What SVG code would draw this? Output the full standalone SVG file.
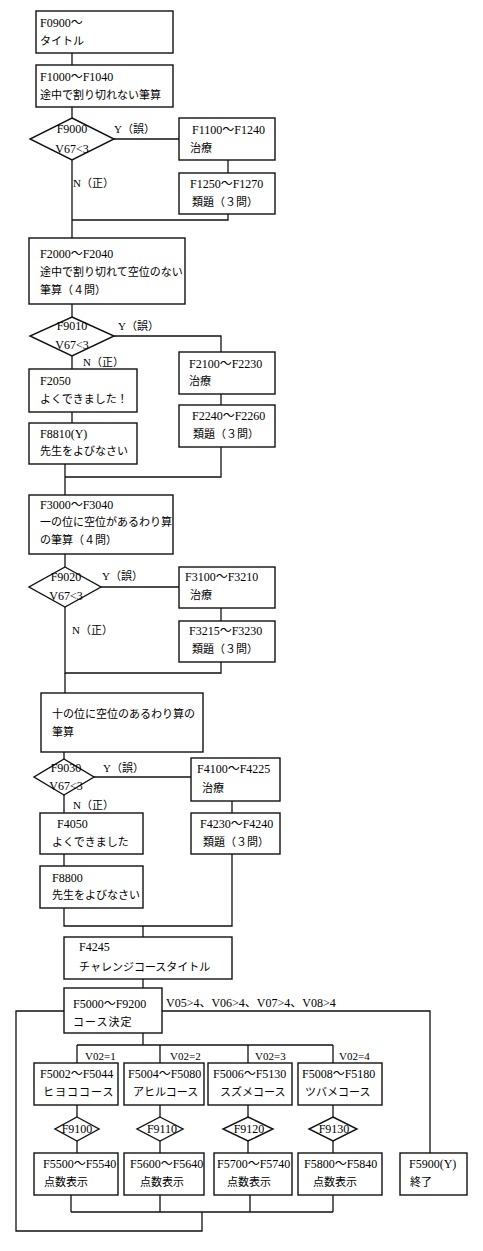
<svg xmlns="http://www.w3.org/2000/svg" width="483" height="1251" viewBox="0 0 483 1251">
<style>
  .bx { fill: #fff; stroke: #111; stroke-width: 1.4; }
  .dm { fill: #fff; stroke: #111; stroke-width: 1.4; }
  .cn { fill: none; stroke: #111; stroke-width: 1.3; }
  .t { font-family: "Liberation Serif", "Noto Sans CJK JP", serif; font-size: 12px; fill: #000; }
  .j { font-family: "Liberation Serif", "Noto Sans CJK JP", serif; font-size: 11px; fill: #000; }
  .d { font-family: "Liberation Serif", "Noto Sans CJK JP", serif; font-size: 12px; fill: #000; text-anchor: middle; }
</style>
<rect width="483" height="1251" fill="#fff"/>
<g id="connectors">
  <path class="cn" d="M72 53 V65"/>
  <path class="cn" d="M72 107 V118"/>
  <path class="cn" d="M114 139 H179"/>
  <path class="cn" d="M228 160 V173"/>
  <path class="cn" d="M228 214 V220 H72"/>
  <path class="cn" d="M72 160 V238"/>
  <path class="cn" d="M72 304 V317"/>
  <path class="cn" d="M114 336 H221 V352"/>
  <path class="cn" d="M72 356 V369"/>
  <path class="cn" d="M221 394 V405"/>
  <path class="cn" d="M72 412 V423"/>
  <path class="cn" d="M221 447 V477 H65"/>
  <path class="cn" d="M65 464 V495"/>
  <path class="cn" d="M65 554 V567"/>
  <path class="cn" d="M101 587 H179"/>
  <path class="cn" d="M221 608 V621"/>
  <path class="cn" d="M65 607 V673 H221 V662"/>
  <path class="cn" d="M65 673 V693"/>
  <path class="cn" d="M64 752 V759"/>
  <path class="cn" d="M94 777 H191"/>
  <path class="cn" d="M232 801 V813"/>
  <path class="cn" d="M64 795 V813"/>
  <path class="cn" d="M64 854 V866"/>
  <path class="cn" d="M64 908 V926 H232 V854"/>
  <path class="cn" d="M143 926 V937"/>
  <path class="cn" d="M143 979 V988"/>
  <path class="cn" d="M162 1011 H430 V1153"/>
  <path class="cn" d="M64 1011 H16 V1231 H202 V1212"/>
  <path class="cn" d="M143 1033 V1045"/>
  <path class="cn" d="M77 1045 H333"/>
  <path class="cn" d="M77 1045 V1063 M160 1045 V1063 M248 1045 V1063 M333 1045 V1063"/>
  <path class="cn" d="M77 1105 V1117 M160 1105 V1117 M248 1105 V1117 M333 1105 V1117"/>
  <path class="cn" d="M77 1141 V1153 M160 1141 V1153 M248 1141 V1153 M333 1141 V1153"/>
  <path class="cn" d="M71 1195 V1212 M160 1195 V1212 M250 1195 V1212 M333 1195 V1212"/>
  <path class="cn" d="M71 1212 H333"/>
  <text class="j" x="114" y="133">Y（誤）</text>
  <text class="j" x="73" y="187">N（正）</text>
  <text class="j" x="118" y="330">Y（誤）</text>
  <text class="j" x="83" y="366">N（正）</text>
  <text class="j" x="102" y="580">Y（誤）</text>
  <text class="j" x="72" y="634">N（正）</text>
  <text class="j" x="103" y="772">Y（誤）</text>
  <text class="j" x="73" y="809">N（正）</text>
  <text class="t" x="166" y="1007" font-size="11.5">V05&gt;4、V06&gt;4、V07&gt;4、V08&gt;4</text>
  <text class="j" x="85" y="1060">V02=1</text>
  <text class="j" x="170" y="1060">V02=2</text>
  <text class="j" x="255" y="1060">V02=3</text>
  <text class="j" x="339" y="1060">V02=4</text>
</g>
<g id="n_f0900"><rect class="bx" x="36" y="11" width="137" height="42"/><text class="t" x="40" y="27">F0900～</text><text class="j" x="40" y="45">タイトル</text></g>
<g id="n_f1000"><rect class="bx" x="36" y="65" width="137" height="42"/><text class="t" x="40" y="81">F1000～F1040</text><text class="j" x="40" y="99">途中で割り切れない筆算</text></g>
<g id="n_f9000"><polygon class="dm" points="72,118 114,139 72,160 30,139"/><text class="d" x="72" y="133">F9000</text><text class="d" x="72" y="153">V67&lt;3</text></g>
<g id="n_f1100"><rect class="bx" x="179" y="118" width="96" height="42"/><text class="t" x="192" y="134">F1100～F1240</text><text class="j" x="190" y="152">治療</text></g>
<g id="n_f1250"><rect class="bx" x="179" y="173" width="96" height="41"/><text class="t" x="190" y="188">F1250～F1270</text><text class="j" x="192" y="206">類題（３問）</text></g>
<g id="n_f2000"><rect class="bx" x="29" y="238" width="156" height="66"/><text class="t" x="40" y="258">F2000～F2040</text><text class="j" x="40" y="276">途中で割り切れて空位のない</text><text class="j" x="40" y="294">筆算（４問）</text></g>
<g id="n_f9010"><polygon class="dm" points="72,317 114,336 72,356 30,336"/><text class="d" x="72" y="330">F9010</text><text class="d" x="72" y="349">V67&lt;3</text></g>
<g id="n_f2100"><rect class="bx" x="179" y="352" width="96" height="42"/><text class="t" x="189" y="368">F2100～F2230</text><text class="j" x="189" y="385">治療</text></g>
<g id="n_f2050"><rect class="bx" x="29" y="369" width="108" height="43"/><text class="t" x="40" y="385">F2050</text><text class="j" x="40" y="403">よくできました！</text></g>
<g id="n_f2240"><rect class="bx" x="179" y="405" width="96" height="42"/><text class="t" x="192" y="420">F2240～F2260</text><text class="j" x="193" y="438">類題（３問）</text></g>
<g id="n_f8810"><rect class="bx" x="29" y="423" width="108" height="41"/><text class="t" x="40" y="438">F8810(Y)</text><text class="j" x="40" y="455">先生をよびなさい</text></g>
<g id="n_f3000"><rect class="bx" x="29" y="495" width="144" height="59"/><text class="t" x="40" y="509">F3000～F3040</text><text class="j" x="40" y="526">一の位に空位があるわり算</text><text class="j" x="40" y="544">の筆算（４問）</text></g>
<g id="n_f9020"><polygon class="dm" points="65,567 101,587 65,607 29,587"/><text class="d" x="66" y="581">F9020</text><text class="d" x="66" y="600">V67&lt;3</text></g>
<g id="n_f3100"><rect class="bx" x="179" y="567" width="96" height="41"/><text class="t" x="185" y="581">F3100～F3210</text><text class="j" x="190" y="599">治療</text></g>
<g id="n_f3215"><rect class="bx" x="179" y="621" width="96" height="41"/><text class="t" x="189" y="635">F3215～F3230</text><text class="j" x="192" y="653">類題（３問）</text></g>
<g id="n_f4000"><rect class="bx" x="41" y="693" width="162" height="59"/><text class="j" x="52" y="718">十の位に空位のあるわり算の</text><text class="j" x="52" y="736">筆算</text></g>
<g id="n_f9030"><polygon class="dm" points="64,759 94,777 64,795 34,777"/><text class="d" x="66" y="772">F9030</text><text class="d" x="66" y="790">V67&lt;3</text></g>
<g id="n_f4100"><rect class="bx" x="191" y="758" width="89" height="43"/><text class="t" x="197" y="773">F4100～F4225</text><text class="j" x="202" y="792">治療</text></g>
<g id="n_f4230"><rect class="bx" x="191" y="813" width="89" height="41"/><text class="t" x="200" y="828">F4230～F4240</text><text class="j" x="203" y="846">類題（３問）</text></g>
<g id="n_f4050"><rect class="bx" x="40" y="813" width="103" height="41"/><text class="t" x="57" y="828">F4050</text><text class="j" x="52" y="846">よくできました</text></g>
<g id="n_f8800"><rect class="bx" x="40" y="866" width="103" height="42"/><text class="t" x="52" y="882">F8800</text><text class="j" x="52" y="899">先生をよびなさい</text></g>
<g id="n_f4245"><rect class="bx" x="64" y="937" width="168" height="42"/><text class="t" x="79" y="951">F4245</text><text class="j" x="79" y="971">チャレンジコースタイトル</text></g>
<g id="n_f5000"><rect class="bx" x="64" y="988" width="98" height="45"/><text class="t" x="73" y="1008">F5000～F9200</text><text class="j" x="73" y="1026" letter-spacing="1">コース決定</text></g>
<g id="n_f5002"><rect class="bx" x="34" y="1063" width="84" height="42"/><text class="t" x="40" y="1078">F5002～F5044</text><text class="j" x="43" y="1096" letter-spacing="1">ヒヨココース</text></g>
<g id="n_f5004"><rect class="bx" x="124" y="1063" width="80" height="42"/><text class="t" x="128" y="1078">F5004～F5080</text><text class="j" x="133" y="1096">アヒルコース</text></g>
<g id="n_f5006"><rect class="bx" x="208" y="1063" width="84" height="42"/><text class="t" x="213" y="1078">F5006～F5130</text><text class="j" x="220" y="1096">スズメコース</text></g>
<g id="n_f5008"><rect class="bx" x="298" y="1063" width="84" height="42"/><text class="t" x="302" y="1078">F5008～F5180</text><text class="j" x="305" y="1096">ツバメコース</text></g>
<g id="n_f9100"><polygon class="dm" points="77,1117 99,1129 77,1141 55,1129"/><text class="d" x="77" y="1133">F9100</text></g>
<g id="n_f9110"><polygon class="dm" points="160,1117 183,1129 160,1141 137,1129"/><text class="d" x="162" y="1133">F9110</text></g>
<g id="n_f9120"><polygon class="dm" points="248,1117 273,1129 248,1141 223,1129"/><text class="d" x="249" y="1133">F9120</text></g>
<g id="n_f9130"><polygon class="dm" points="333,1117 357,1129 333,1141 309,1129"/><text class="d" x="334" y="1133">F9130</text></g>
<g id="n_f5500"><rect class="bx" x="34" y="1153" width="84" height="42"/><text class="t" x="43" y="1168">F5500～F5540</text><text class="j" x="44" y="1186">点数表示</text></g>
<g id="n_f5600"><rect class="bx" x="124" y="1153" width="80" height="42"/><text class="t" x="130" y="1168">F5600～F5640</text><text class="j" x="140" y="1186">点数表示</text></g>
<g id="n_f5700"><rect class="bx" x="214" y="1153" width="78" height="42"/><text class="t" x="217" y="1168">F5700～F5740</text><text class="j" x="227" y="1186">点数表示</text></g>
<g id="n_f5800"><rect class="bx" x="298" y="1153" width="84" height="42"/><text class="t" x="304" y="1168">F5800～F5840</text><text class="j" x="313" y="1186">点数表示</text></g>
<g id="n_f5900"><rect class="bx" x="400" y="1153" width="67" height="42"/><text class="t" x="409" y="1168">F5900(Y)</text><text class="j" x="410" y="1186">終了</text></g>
</svg>
